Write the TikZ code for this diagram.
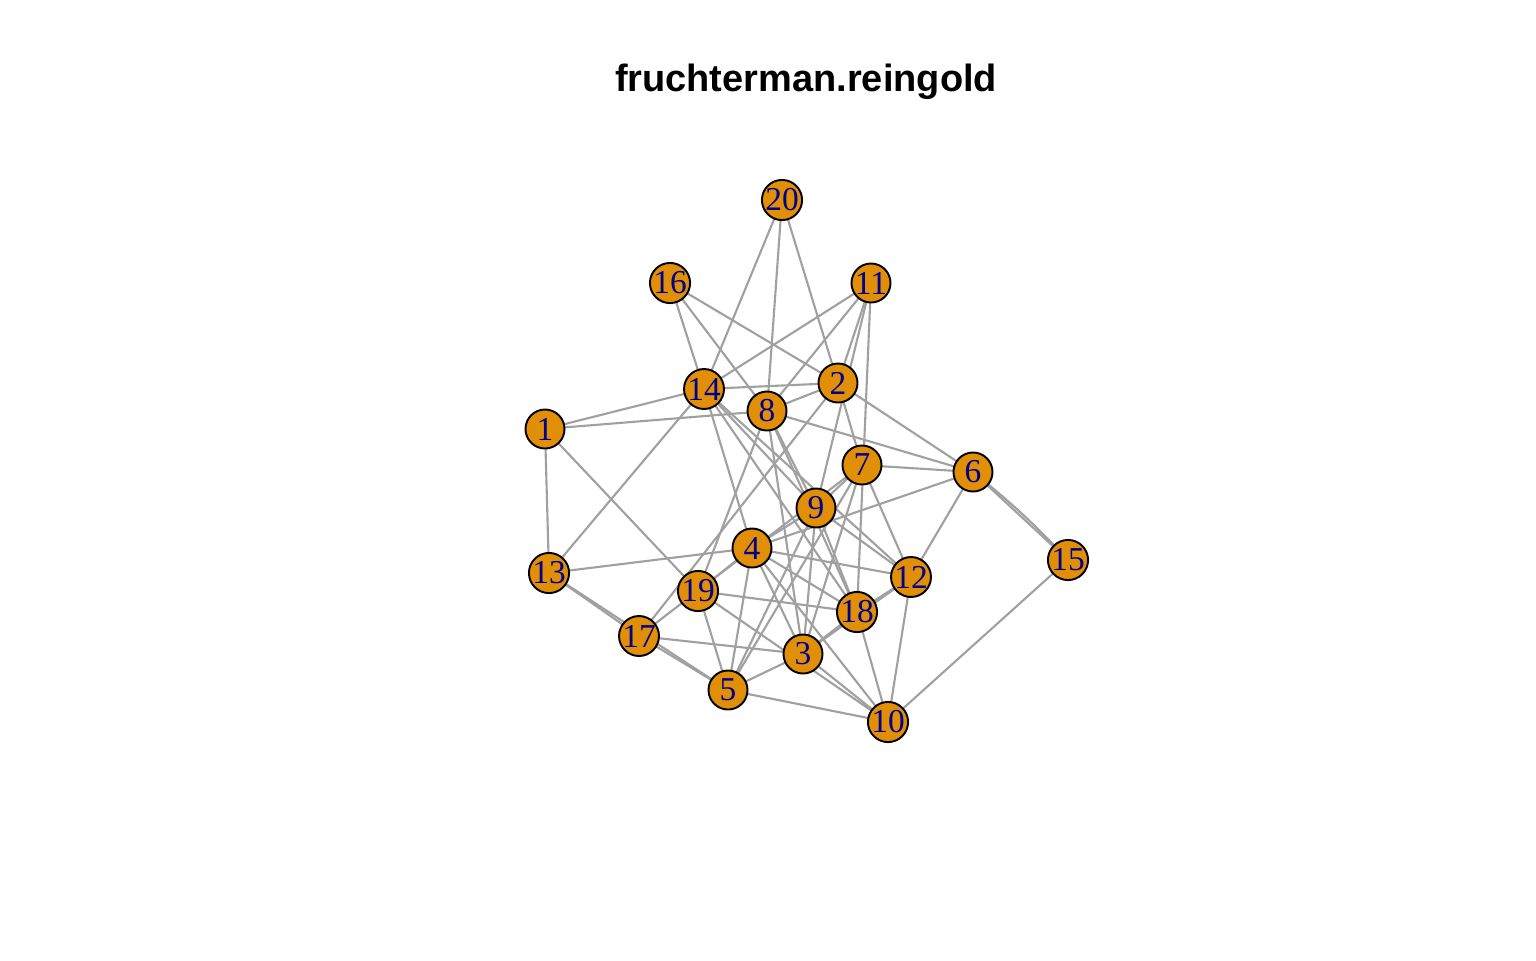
\documentclass[tikz,border=0pt]{standalone}
\usepackage{fontspec}
\setmainfont{Liberation Serif}
\newfontfamily\titlefont{Liberation Sans}
\usepackage{tikz}
\definecolor{vfill}{RGB}{226,143,8}
\definecolor{egray}{RGB}{160,160,160}
\definecolor{vlabel}{RGB}{0,0,139}

\tikzset{
  vertex/.style={circle, draw=black, line width=0.55pt, fill=vfill,
    minimum size=0.39cm, inner sep=0pt, text=vlabel,
    font=\fontsize{9.5}{9.5}\selectfont},
  edge/.style={egray, line width=0.6pt},
}

\begin{document}
\begin{tikzpicture}[x=0.01cm, y=-0.01cm]
\useasboundingbox (0,0) rectangle (1536,960);
\node[font=\titlefont\bfseries\fontsize{10.8}{12}\selectfont] (title) at (806,82) {fruchterman.reingold};

\foreach \k/\x/\y in {1/545/429, 2/838/383, 3/803/654, 4/752/548, 5/728/690,
  6/973/472, 7/862/465, 8/767/411, 9/816/508, 10/888/722, 11/871/283,
  12/911/577, 13/549/573, 14/704/389, 15/1068/560, 16/670/283,
  17/639/636, 18/857/612, 19/698/591, 20/782/200} {
  \coordinate (v\k) at (\x,\y);
}

\foreach \a/\b in {1/14, 1/8, 1/13, 1/19,
  20/14, 20/8, 20/2,
  16/14, 16/2, 16/8,
  11/14, 11/8, 11/2, 11/9, 11/18,
  14/2, 14/13, 14/4, 14/9, 14/18, 14/12,
  8/2, 8/6, 8/19, 8/9, 8/18, 8/3,
  2/6, 2/7, 2/17,
  6/7, 6/4, 6/12, 6/15,
  7/9, 7/17, 7/12, 7/5, 7/3,
  9/4, 9/12, 9/18, 9/3, 9/5,
  4/13, 4/19, 4/5, 4/12, 4/18, 4/3, 4/10,
  19/18, 19/10, 19/5,
  17/3, 17/5, 17/13, 13/5,
  3/18, 3/12, 18/12, 18/10, 12/10,
  10/5, 3/10, 10/15, 3/5} {
  \draw[edge] (v\a) -- (v\b);
}
% second 6--15 edge
\draw[edge] (v6) to[bend left=4] (v15);

\foreach \k in {1,...,20} {
  \node[vertex] (n\k) at (v\k) {\k};
}
\end{tikzpicture}
\end{document}
